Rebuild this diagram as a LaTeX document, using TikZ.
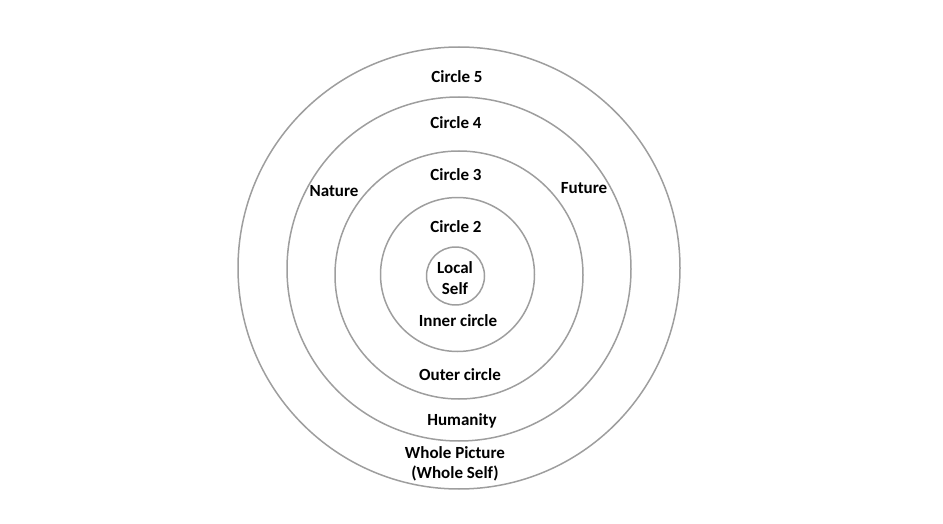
\documentclass[tikz,border=0pt]{standalone}
\usepackage{fontspec}
\setmainfont{Carlito}
\begin{document}
\begin{tikzpicture}[x=1pt, y=-1pt, line join=round, line cap=round,
    ring/.style={draw=black!38, line width=1.5pt},
    lbl/.style={font=\bfseries\fontsize{17}{20.5}\selectfont, align=center, inner sep=0pt}]
    \useasboundingbox (0,0) rectangle (943,524);
    % rings
    \draw[ring] (459,268) circle (221);
    \draw[ring] (459,269) circle (172);
    \draw[ring] (459,275) circle (124);
    \draw[ring] (457.5,274.5) circle (77);
    \draw[ring] (455.5,276) circle (29);
    % labels
    \node[lbl] (c5) at (457,77) {Circle 5};
    \node[lbl] (c4) at (456,123) {Circle 4};
    \node[lbl] (c3) at (456,175) {Circle 3};
    \node[lbl] (c2) at (456,227) {Circle 2};
    \node[lbl] (self) at (455,278) {Local\\Self};
    \node[lbl] (inner) at (458,321) {Inner circle};
    \node[lbl] (outer) at (460,375) {Outer circle};
    \node[lbl] (hum) at (462,421) {Humanity};
    \node[lbl] (whole) at (455,464) {Whole Picture\\(Whole Self)};
    \node[lbl] (nat) at (334,191) {Nature};
    \node[lbl] (fut) at (584,188) {Future};
\end{tikzpicture}
\end{document}
